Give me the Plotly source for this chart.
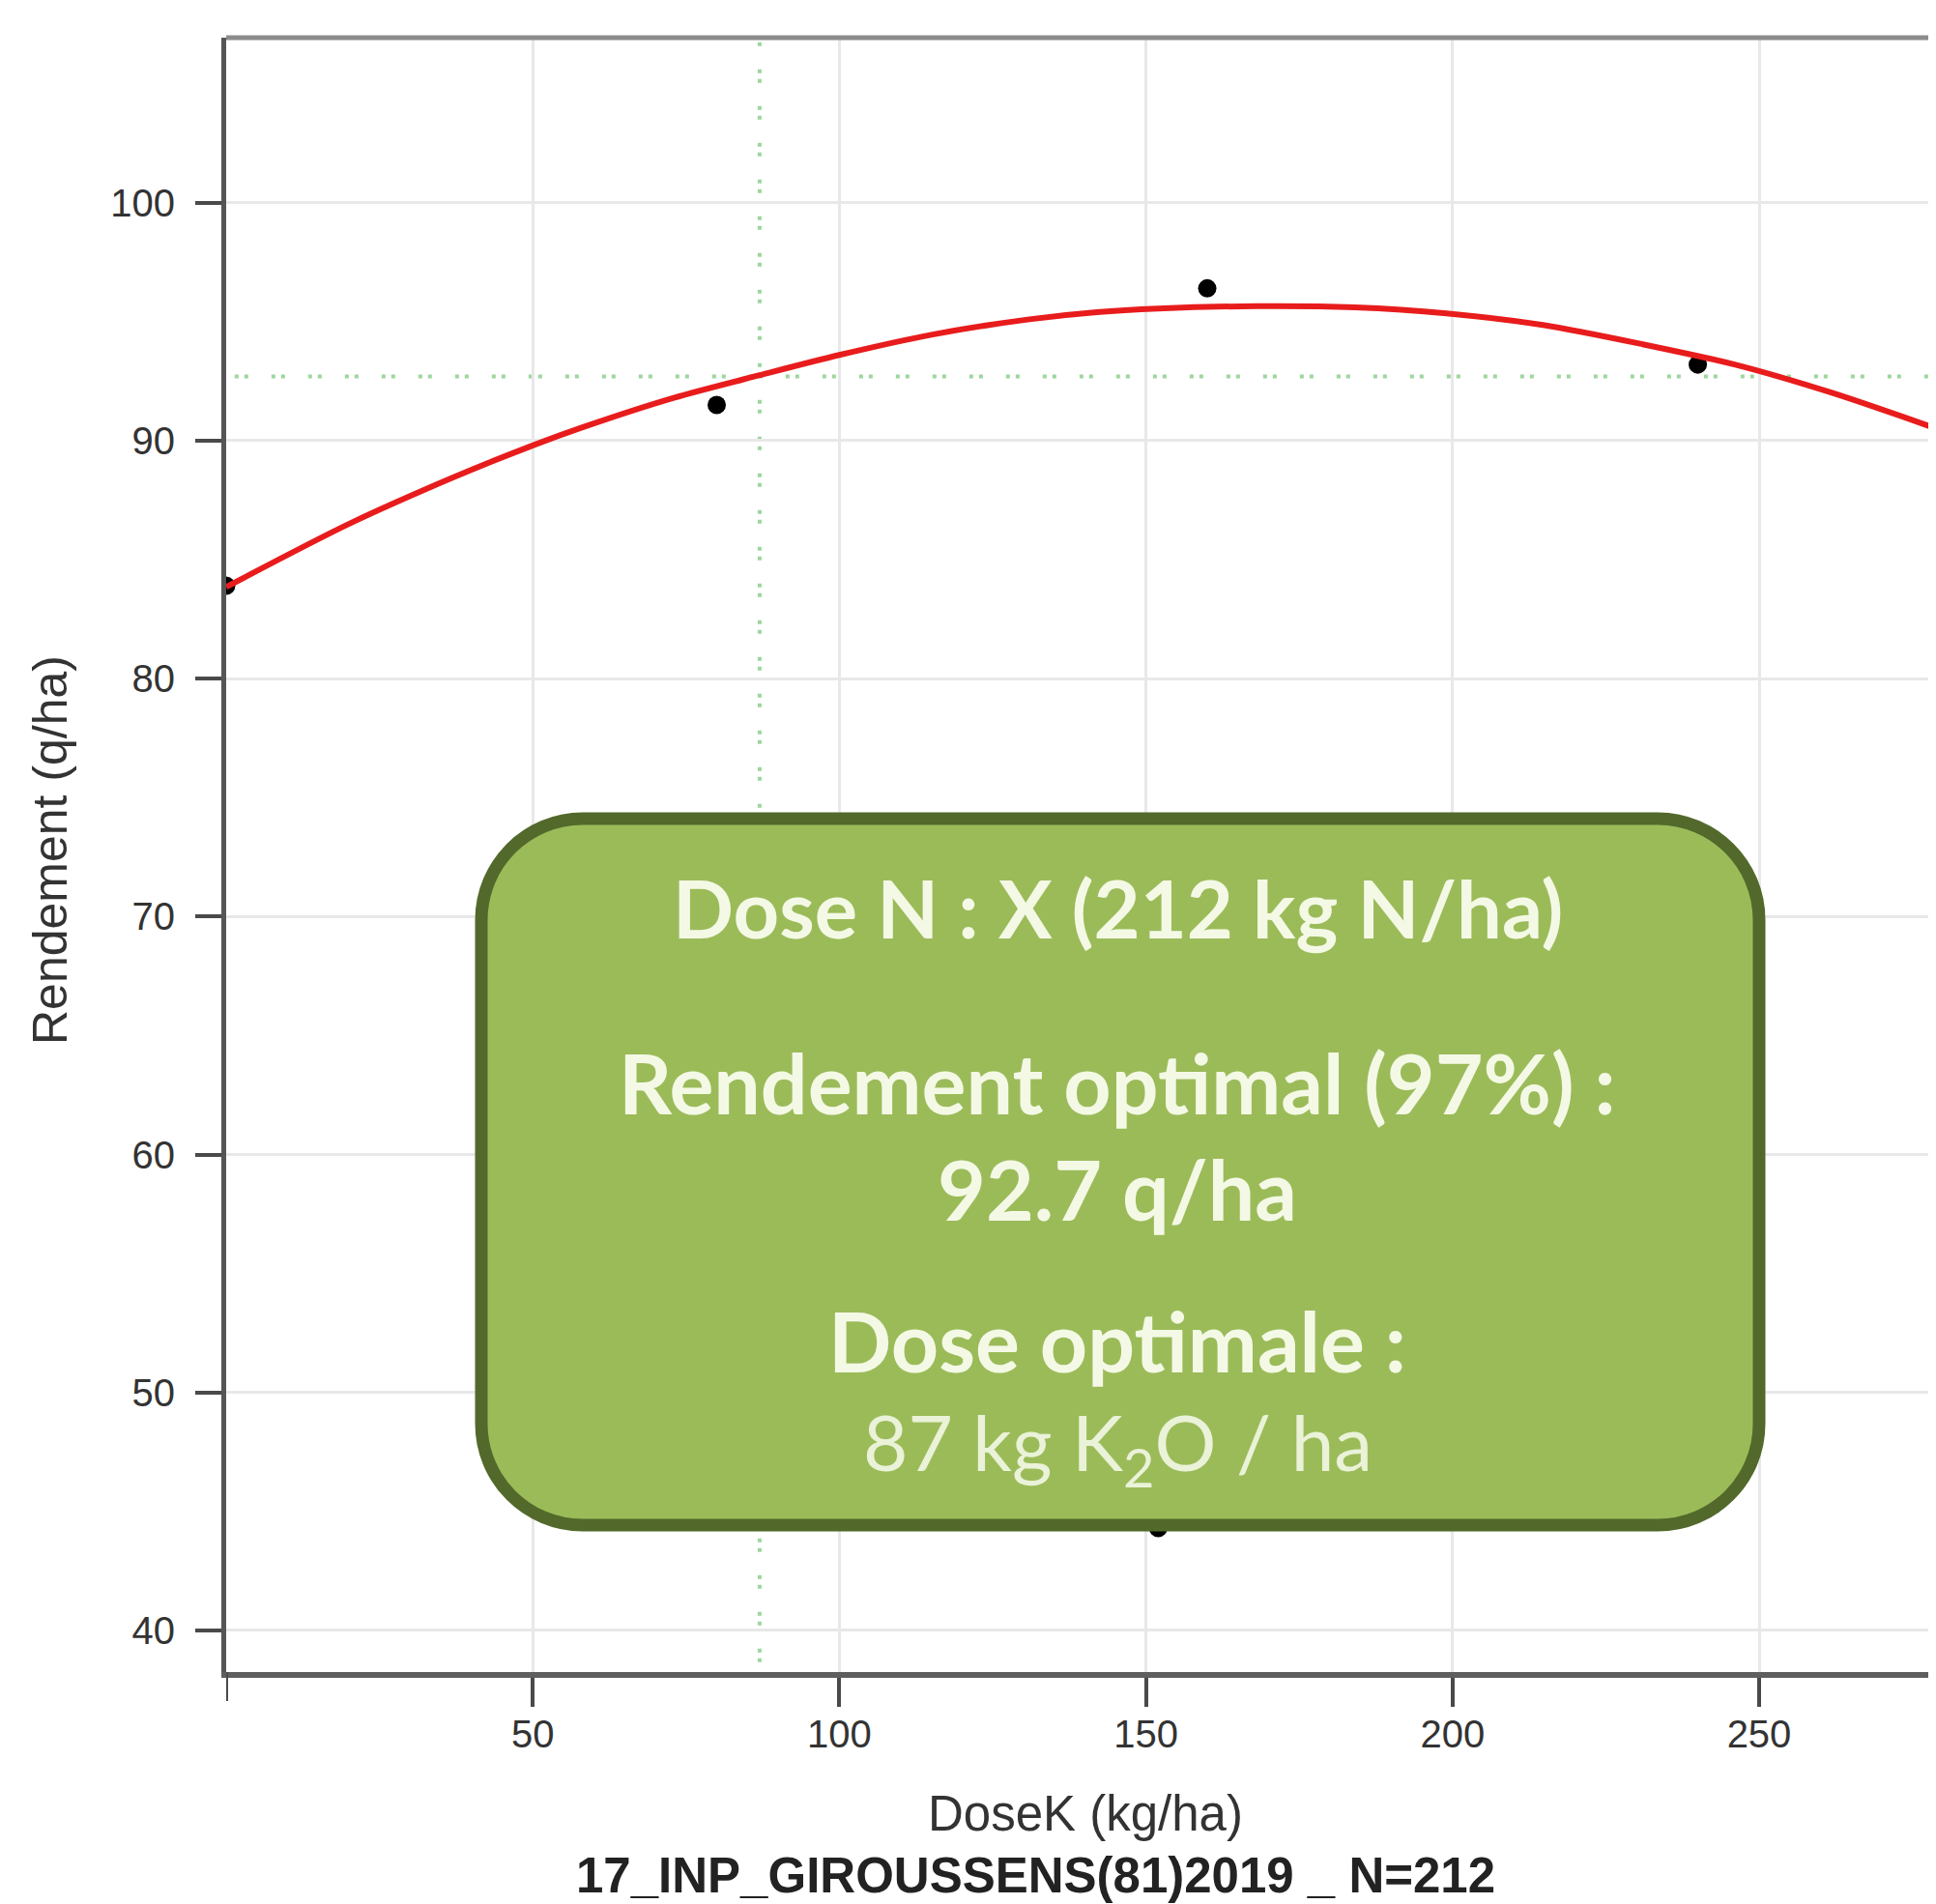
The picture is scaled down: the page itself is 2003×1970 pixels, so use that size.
import plotly.graph_objects as go

# ---------------- data ----------------
dose_obs = [0, 80, 160, 240, 152]
rdt_obs = [83.9, 91.5, 96.4, 93.2, 44.3]

curve_dose = [0, 20, 37, 50, 58, 73, 87, 100, 115, 131, 142, 152, 168, 184, 199, 215, 231, 246, 262, 279]
curve_rdt = [83.85, 86.5, 88.45, 89.8, 90.55, 91.8, 92.75, 93.6, 94.45, 95.1, 95.4, 95.55, 95.65, 95.6,
             95.35, 94.85, 94.05, 93.2, 92.0, 90.5]

dose_opt = 87
rdt_opt = 92.7

x_ticks = [50, 100, 150, 200, 250]
y_ticks = [40, 50, 60, 70, 80, 90, 100]

box_lines = [
    "<b>Dose N : X (212 kg N/ha)</b>",
    "<b>Rendement optimal (97%) :</b>",
    "<b>92.7 q/ha</b>",
    "<b>Dose optimale :</b>",
    "87 kg K<sub>2</sub>O / ha",
]

# ---------------- layout geometry (pixels of the reference) ----------------
OFF = 8                      # page body margin of the html page
W, H = 2003 - OFF, 1970 - OFF
L, R, T, B = 234, 2003, 39, 1730          # plot area in reference pixels
PW, PH = R - L, B - T


def px(x):
    return (x - L) / PW


def py(y):
    return (B - y) / PH


fig = go.Figure()

fig.add_trace(go.Scatter(
    x=dose_obs, y=rdt_obs, mode="markers",
    marker=dict(color="black", size=19),
    hoverinfo="skip", showlegend=False,
))
fig.add_trace(go.Scatter(
    x=curve_dose, y=curve_rdt, mode="lines",
    line=dict(color="#E81C1C", width=6, shape="spline", smoothing=0.8),
    hoverinfo="skip", showlegend=False,
))

# optimum reference lines
dots = "4px,6px,4px,24px"
fig.add_shape(type="line", xref="x", yref="paper", x0=dose_opt, x1=dose_opt, y0=0.006, y1=1,
              line=dict(color="#9ED69E", width=4, dash=dots), layer="between")
fig.add_shape(type="line", xref="paper", yref="y", x0=0.005, x1=1, y0=rdt_opt, y1=rdt_opt,
              line=dict(color="#9ED69E", width=4, dash=dots), layer="between")

# top frame line
fig.add_shape(type="line", xref="paper", yref="paper", x0=0, x1=1, y0=1, y1=1,
              line=dict(color="#8C8C8C", width=5), layer="above")
# tick mark at the origin of the x axis
fig.add_shape(type="line", xref="x", yref="paper", x0=0, x1=0, y0=0, y1=-30 / PH,
              line=dict(color="#4A4A4A", width=4), layer="above")

# rounded green box
bx0, bx1, by0, by1 = 498, 1820, 847, 1578
r = 105
k = 0.5523 * r
path = (
    f"M {px(bx0 + r)} {py(by0)} "
    f"L {px(bx1 - r)} {py(by0)} "
    f"C {px(bx1 - r + k)} {py(by0)} {px(bx1)} {py(by0 + r - k)} {px(bx1)} {py(by0 + r)} "
    f"L {px(bx1)} {py(by1 - r)} "
    f"C {px(bx1)} {py(by1 - r + k)} {px(bx1 - r + k)} {py(by1)} {px(bx1 - r)} {py(by1)} "
    f"L {px(bx0 + r)} {py(by1)} "
    f"C {px(bx0 + r - k)} {py(by1)} {px(bx0)} {py(by1 - r + k)} {px(bx0)} {py(by1 - r)} "
    f"L {px(bx0)} {py(by0 + r)} "
    f"C {px(bx0)} {py(by0 + r - k)} {px(bx0 + r - k)} {py(by0)} {px(bx0 + r)} {py(by0)} Z"
)
fig.add_shape(type="path", xref="paper", yref="paper", path=path,
              fillcolor="#9BBB59", line=dict(color="#52692B", width=13), layer="above")

line_y = [939, 1119, 1229, 1386, 1497]
line_sizes = [83, 86, 86, 86, 80]
line_colors = ["#F4F9E6", "#F4F9E6", "#F4F9E6", "#F4F9E6", "#EAF2D8"]
for txt, yy, fs, col in zip(box_lines, line_y, line_sizes, line_colors):
    fig.add_annotation(text=txt, xref="paper", yref="paper", x=px(1156), y=py(yy),
                       xanchor="center", yanchor="middle", showarrow=False,
                       font=dict(family="Lato, 'Open Sans', sans-serif", size=fs, color=col))

# axis titles and subtitle
base_font = "'Liberation Sans', Arial, sans-serif"
fig.add_annotation(text="DoseK (kg/ha)", xref="paper", yref="paper", x=px(1123), y=py(1877),
                   xanchor="center", yanchor="middle", showarrow=False,
                   font=dict(family=base_font, size=51, color="#333333"))
fig.add_annotation(text="<b>17_INP_GIROUSSENS(81)2019 _ N=212</b>", xref="paper", yref="paper",
                   x=px(1071), y=py(1940), xanchor="center", yanchor="middle", showarrow=False,
                   font=dict(family=base_font, size=51, color="#222222"))
fig.add_annotation(text="Rendement (q/ha)", xref="paper", yref="paper", x=px(52), y=py(880),
                   xanchor="center", yanchor="middle", showarrow=False, textangle=-90,
                   font=dict(family=base_font, size=50, color="#333333"))

axis_font = dict(family=base_font, size=40, color="#333333")
fig.update_xaxes(
    range=[0, PW / 6.344], tickvals=x_ticks,
    showgrid=True, gridcolor="#E8E8E8", gridwidth=3,
    showline=True, linecolor="#5E5E5E", linewidth=6,
    ticks="outside", ticklen=30, tickwidth=4, tickcolor="#4A4A4A",
    tickfont=axis_font, ticklabelstandoff=-6, zeroline=False,
)
fig.update_yaxes(
    range=[38.25, 38.25 + PH / 24.62], tickvals=y_ticks,
    showgrid=True, gridcolor="#E8E8E8", gridwidth=3,
    showline=True, linecolor="#555555", linewidth=5,
    ticks="outside", ticklen=27, tickwidth=4, tickcolor="#4A4A4A",
    tickfont=axis_font, ticklabelstandoff=13, zeroline=False,
)
fig.update_layout(
    width=W, height=H,
    margin=dict(l=L - OFF, r=0, t=T - OFF, b=(H + OFF) - B),
    plot_bgcolor="white", paper_bgcolor="white",
    showlegend=False,
)

fig.write_html("out.html")
